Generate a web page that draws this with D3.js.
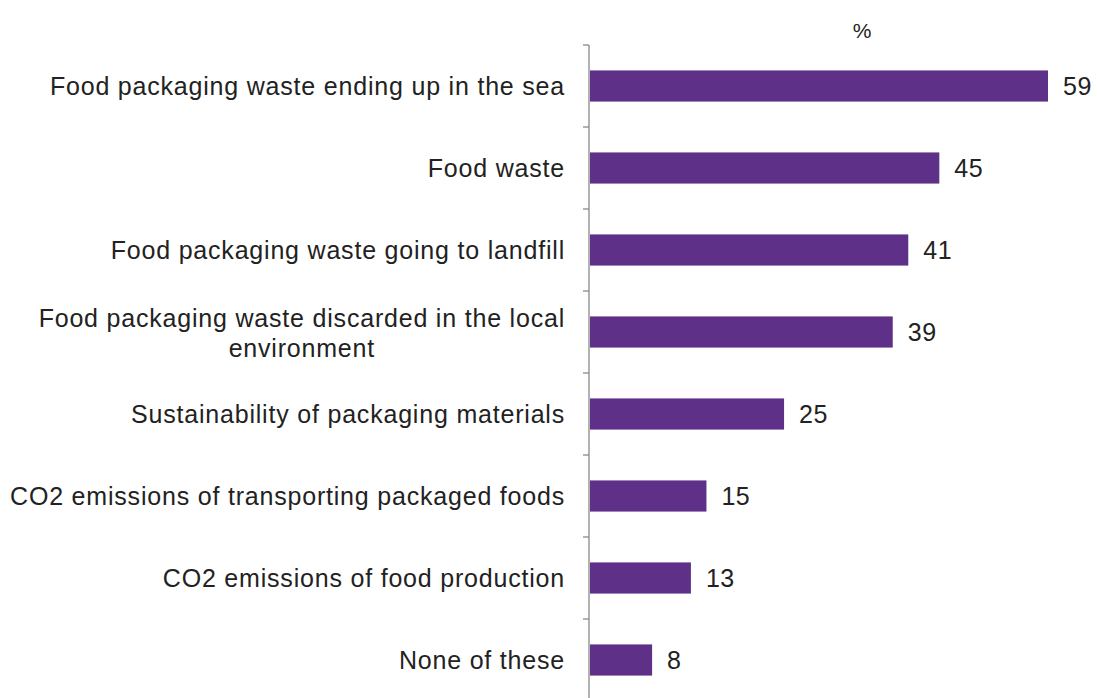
<!DOCTYPE html>
<html>
<head>
<meta charset="utf-8">
<script src="https://cdn.jsdelivr.net/npm/d3@7"></script>
<style>
  body { margin: 0; background: #fff; }
  text { font-family: "Liberation Sans", Arial, sans-serif; fill: #222; }
</style>
</head>
<body>
<svg id="chart" width="1098" height="698"></svg>
<script>
const categories = [
	"Food packaging waste ending up in the sea",
	"Food waste",
	"Food packaging waste going to landfill",
	"Food packaging waste discarded in the local|environment",
	"Sustainability of packaging materials",
	"CO2 emissions of transporting packaged foods",
	"CO2 emissions of food production",
	"None of these"
];
const values = [59, 45, 41, 39, 25, 15, 13, 8];
const unitLabel = "%";

let svg = d3.select("#chart");
let margin = { top: 45, right: 30, bottom: 0, left: 589 };
let plotH = 701 - margin.top;

let x = d3.scaleLinear().domain([0, 59]).range([0, 458]);
let y = d3.scaleBand().domain(d3.range(categories.length)).range([0, plotH]).paddingInner(0.62).paddingOuter(0.31);
let band = d3.scaleBand().domain(d3.range(categories.length)).range([0, plotH]);

let g = svg.append("g")
	.attr("transform", "translate(" + margin.left + "," + margin.top + ")");

// axis line + ticks at category boundaries
g.append("line")
	.attr("x1", 0).attr("x2", 0)
	.attr("y1", 0).attr("y2", plotH)
	.attr("stroke", "#888").attr("stroke-width", 1.3);

g.selectAll(".tick")
	.data(d3.range(categories.length + 1))
	.enter().append("line")
	.attr("class", "tick")
	.attr("x1", -6).attr("x2", 0)
	.attr("y1", function (d) { return d * band.step(); })
	.attr("y2", function (d) { return d * band.step(); })
	.attr("stroke", "#888").attr("stroke-width", 1.3);

g.selectAll(".bar")
	.data(values)
	.enter().append("rect")
	.attr("class", "bar")
	.attr("x", 1)
	.attr("y", function (d, i) { return y(i); })
	.attr("width", function (d) { return x(d); })
	.attr("height", y.bandwidth())
	.attr("fill", "#5e3088");

g.selectAll(".bar_label")
	.data(values)
	.enter().append("text")
	.attr("class", "bar_label")
	.attr("x", function (d) { return x(d) + 16; })
	.attr("y", function (d, i) { return y(i) + y.bandwidth() / 2; })
	.attr("dy", "0.36em")
	.style("font-size", "25px")
	.style("letter-spacing", "0.5px")
	.text(function (d) { return d; });

let labels = g.selectAll(".cat_label")
	.data(categories)
	.enter().append("text")
	.attr("class", "cat_label")
	.attr("text-anchor", "end")
	.style("font-size", "25px")
	.style("letter-spacing", "0.8px")
	.attr("y", function (d, i) { return y(i) + y.bandwidth() / 2; });

labels.each(function (d) {
	let lines = d.split("|");
	let t = d3.select(this);
	if (lines.length == 1) {
		t.append("tspan").attr("x", -24).attr("dy", "0.36em").text(lines[0]);
	} else {
		let first = t.append("tspan").attr("x", -24).attr("dy", "-0.22em").text(lines[0]);
		let w = first.node().getComputedTextLength();
		t.append("tspan").attr("x", -24 - w / 2).attr("text-anchor", "middle").attr("dy", "1.2em").text(lines[1]);
	}
});

svg.append("text")
	.attr("x", 862)
	.attr("y", 38)
	.attr("text-anchor", "middle")
	.style("font-size", "21px")
	.text(unitLabel);
</script>
</body>
</html>
